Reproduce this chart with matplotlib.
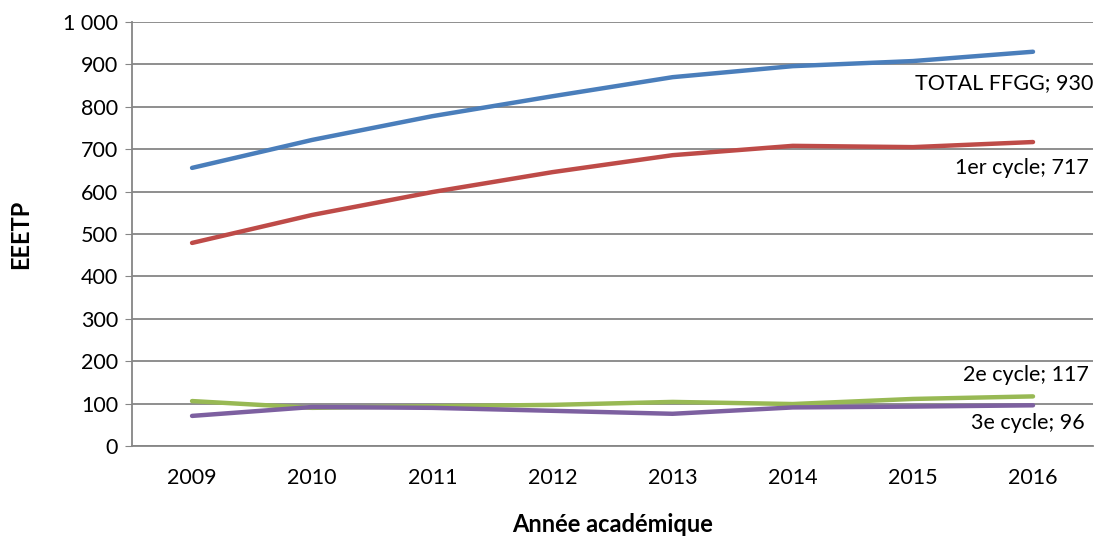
import matplotlib
matplotlib.use("Agg")
import matplotlib.pyplot as plt
from matplotlib.ticker import FuncFormatter

plt.rcParams['font.family'] = ['Lato', 'DejaVu Sans']

years = [2009, 2010, 2011, 2012, 2013, 2014, 2015, 2016]
total_ffgg = [656, 722, 778, 825, 870, 896, 908, 930]
cycle1 = [479, 545, 599, 646, 686, 708, 705, 717]
cycle2 = [106, 90, 94, 97, 104, 99, 111, 117]
cycle3 = [71, 92, 90, 83, 76, 91, 93, 96]

series = [
    ("TOTAL FFGG", total_ffgg, "#4A7EBB", (60, -31)),
    ("1er cycle", cycle1, "#BE4B48", (56, -26)),
    ("2e cycle", cycle2, "#98B954", (56, 21)),
    ("3e cycle", cycle3, "#7D60A0", (52, -18)),
]

fig = plt.figure(figsize=(10.99, 5.38), dpi=100)
ax = fig.add_axes([0.1201, 0.171, 0.8745, 0.788])

x = list(range(len(years)))
for name, vals, color, off in series:
    ax.plot(x, vals, color=color, lw=3.2, solid_capstyle='round', zorder=3)
    ax.annotate(f"{name}; {vals[-1]}", (x[-1], vals[-1]), xytext=off,
                textcoords='offset pixels', ha='right', va='center', fontsize=15.5)

ax.set_xlim(-0.5, len(years) - 0.5)
ax.set_ylim(0, 1000)
ax.set_xticks(x)
ax.set_xticklabels([str(y) for y in years])
ax.set_yticks(range(0, 1001, 100))
ax.yaxis.set_major_formatter(FuncFormatter(lambda v, p: f"{int(v):,}".replace(",", " ")))

ax.grid(axis='y', color='#868686', lw=1.3)
ax.set_axisbelow(True)
for s in ['top', 'right']:
    ax.spines[s].set_visible(False)
for s in ['left', 'bottom']:
    ax.spines[s].set_color('#868686')
    ax.spines[s].set_linewidth(1.3)
ax.tick_params(axis='x', length=0, labelsize=15.5, pad=16)
ax.tick_params(axis='y', length=5, color='#868686', labelsize=15.5, pad=5)

ax.set_xlabel("Année académique", fontsize=17, fontweight='bold', labelpad=18)
ax.set_ylabel("EEETP", fontsize=17, fontweight='bold', labelpad=22)

fig.savefig("out.png", dpi=100)
